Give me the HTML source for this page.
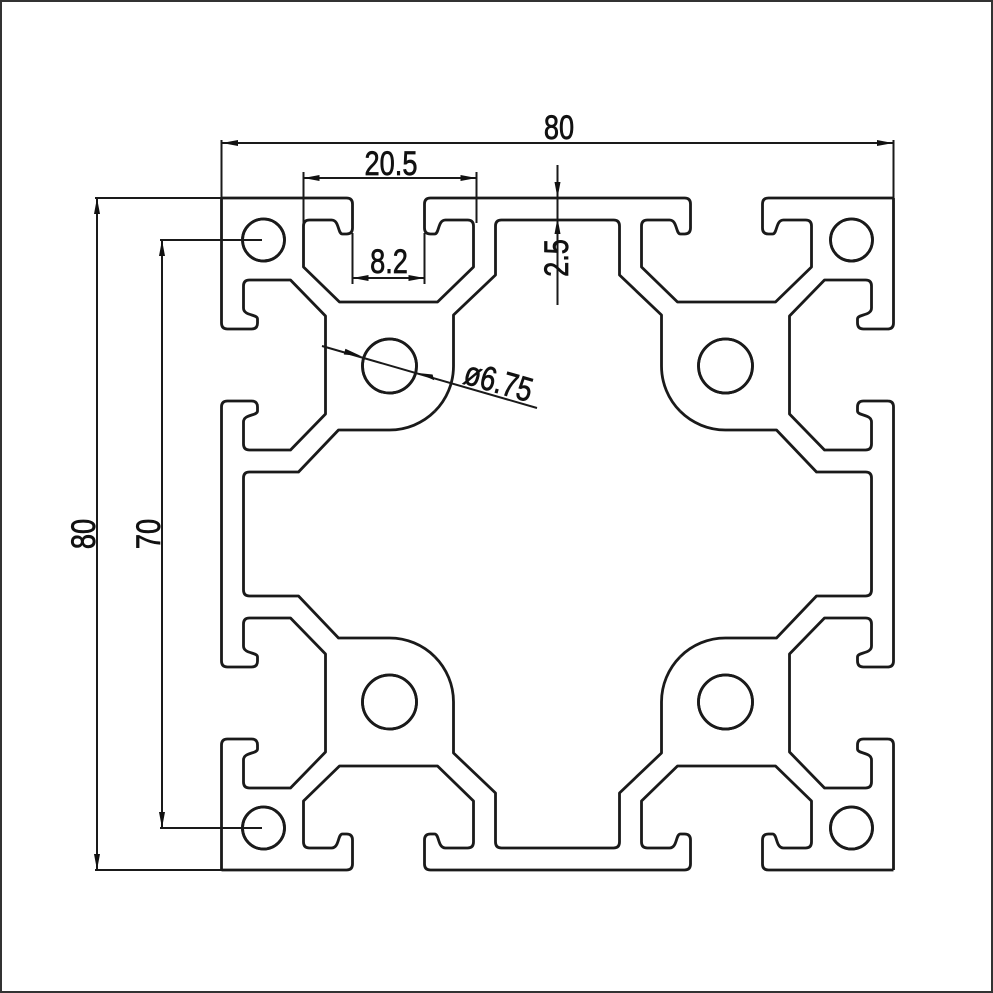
<!DOCTYPE html>
<html><head><meta charset="utf-8"><style>
html,body{margin:0;padding:0;background:#fff}
svg{display:block}
text{font-family:"Liberation Sans",sans-serif;fill:#111;stroke:#111;stroke-width:0.7}
</style></head><body>
<svg width="993" height="993" viewBox="0 0 993 993" xmlns="http://www.w3.org/2000/svg">
<defs>
<marker id="a" viewBox="0 0 16 6" refX="16" refY="3" markerWidth="16" markerHeight="6" markerUnits="userSpaceOnUse" orient="auto-start-reverse"><path d="M0,0 L16,3 L0,6 z" fill="#111"/></marker>
<g id="oct" fill="none" stroke="#1a1a1a" stroke-width="2.8" stroke-linejoin="round">
<path d="M0,-336 H127 Q133,-336 133,-330 V-306 Q133,-300 127,-300 H123 C118,-300 120,-314 112,-314 H90 Q84,-314 84,-308 V-267 L120,-232 H218 L254,-267 V-308 Q254,-314 248,-314 H226 C218,-314 220,-300 215,-300 H211 Q205,-300 205,-306 V-330 Q205,-336 211,-336 H336"/>
<path d="M0,-314 H56 Q62,-314 62,-308 V-259 L104,-219 V-168 A64 64 0 0 0 122.7,-122.7"/>
<circle cx="294" cy="-294" r="21"/>
<circle cx="168" cy="-168" r="27"/>
</g>
</defs>
<rect x="1" y="1" width="991" height="991" fill="none" stroke="#333" stroke-width="2"/>
<g transform="translate(557.5,534)">
<use href="#oct"/>
<use href="#oct" transform="scale(-1,1)"/>
<use href="#oct" transform="rotate(90)"/>
<use href="#oct" transform="rotate(90) scale(-1,1)"/>
<use href="#oct" transform="rotate(180)"/>
<use href="#oct" transform="rotate(180) scale(-1,1)"/>
<use href="#oct" transform="rotate(270)"/>
<use href="#oct" transform="rotate(270) scale(-1,1)"/>
</g>
<g stroke="#1a1a1a" stroke-width="2" fill="none">
<path d="M221.5,140 V198 M893.5,140 V198 M95,198 H222 M95,870 H222 M160,240 H262 M160,828 H262 M303.5,172 V223 M476.5,172 V223 M352.5,233 V284 M424.5,233 V284"/>
<line x1="222" y1="143" x2="893" y2="143" marker-start="url(#a)" marker-end="url(#a)"/>
<line x1="303.5" y1="178" x2="476.5" y2="178" marker-start="url(#a)" marker-end="url(#a)"/>
<line x1="352.5" y1="278" x2="424.5" y2="278" marker-start="url(#a)" marker-end="url(#a)"/>
<line x1="97" y1="198" x2="97" y2="870" marker-start="url(#a)" marker-end="url(#a)"/>
<line x1="162" y1="240" x2="162" y2="828" marker-start="url(#a)" marker-end="url(#a)"/>
<line x1="557.5" y1="165" x2="557.5" y2="305"/>
<line x1="322" y1="346" x2="537" y2="408"/>
</g>
<g fill="#111">
<polygon points="557.5,198 554.5,182 560.5,182"/>
<polygon points="557.5,218 554.5,234 560.5,234"/>
<polygon points="361,356 345.4,348.7 343.8,354.5"/>
<polygon points="418,373 432.6,374.5 434.2,380.3"/>
</g>
<g font-size="34">
<text transform="translate(559 139) scale(0.8 1)" text-anchor="middle">80</text>
<text transform="translate(391 175) scale(0.8 1)" text-anchor="middle">20.5</text>
<text transform="translate(389 273) scale(0.8 1)" text-anchor="middle">8.2</text>
<text transform="translate(568 258) rotate(-90) scale(0.8 1)" text-anchor="middle">2.5</text>
<text transform="translate(95 534) rotate(-90) scale(0.8 1)" text-anchor="middle">80</text>
<text transform="translate(160 534) rotate(-90) scale(0.8 1)" text-anchor="middle">70</text>
<text transform="translate(462 383) rotate(16) scale(0.8 1)">ø6.75</text>
</g>
</svg>
</body></html>
